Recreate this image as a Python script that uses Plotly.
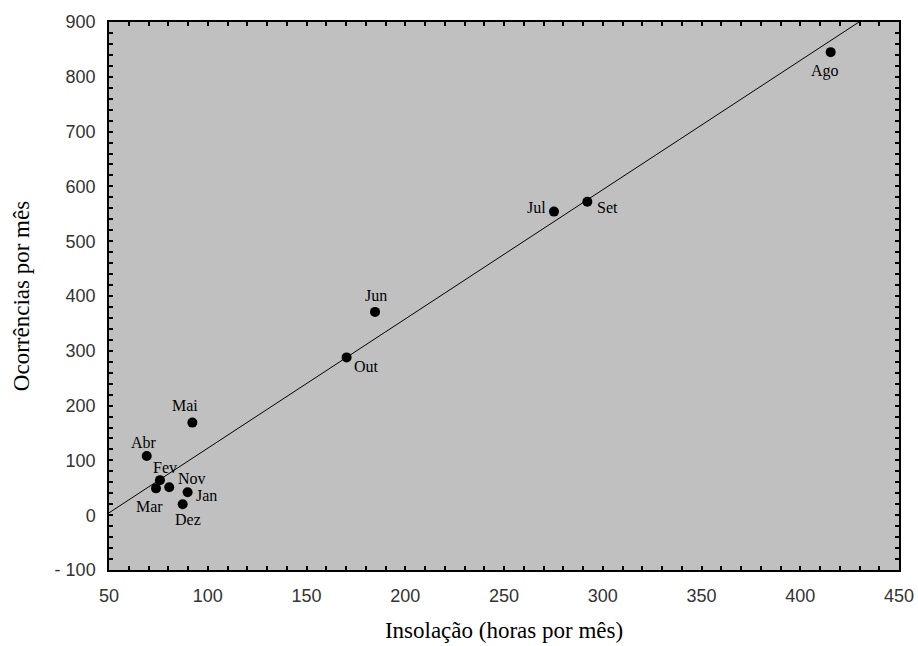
import numpy as np
import plotly.graph_objects as go

months = ["Jan", "Fev", "Mar", "Abr", "Mai", "Jun", "Jul", "Ago", "Set", "Out", "Nov", "Dez"]
insolacao = [89.8, 75.8, 73.8, 69.1, 92.2, 184.7, 275.3, 415.4, 292.2, 170.3, 80.5, 87.3]
ocorrencias = [42, 64, 49, 108, 169, 371, 554, 845, 572, 288, 51, 20]

x_ticks = [50, 100, 150, 200, 250, 300, 350, 400, 450]
y_ticks = [-100, 0, 100, 200, 300, 400, 500, 600, 700, 800, 900]
y_tick_labels = ["- 100", "0", "100", "200", "300", "400", "500", "600", "700", "800", "900"]

# label placement offsets in pixels (dx right, dy up)
label_offsets = {
    "Jan": (19, -3), "Fev": (5, 13), "Mar": (-7, -18), "Abr": (-3, 14),
    "Mai": (-7, 17), "Jun": (1, 16), "Jul": (-17, 4), "Ago": (-6, -19),
    "Set": (20, -6), "Out": (20, -9), "Nov": (23, 9), "Dez": (5, -15),
}

slope, intercept = np.polyfit(insolacao, ocorrencias, 1)
line_x = np.array([50, 450])
line_y = slope * line_x + intercept

fig = go.Figure()
fig.add_trace(go.Scatter(x=line_x, y=line_y, mode="lines",
                         line=dict(color="black", width=1), showlegend=False,
                         hoverinfo="skip"))
fig.add_trace(go.Scatter(x=insolacao, y=ocorrencias, mode="markers",
                         marker=dict(color="black", size=10), showlegend=False,
                         text=months))

for m, x, y in zip(months, insolacao, ocorrencias):
    dx, dy = label_offsets[m]
    fig.add_annotation(x=x, y=y, text=m, showarrow=False, xshift=dx, yshift=dy,
                       font=dict(family="Liberation Serif", size=16, color="black"))

axis_common = dict(
    showgrid=False, zeroline=False, showline=True, linecolor="black", linewidth=1.5,
    mirror="allticks", ticks="inside", ticklen=4, tickcolor="black", tickwidth=1.5,
    tickfont=dict(family="Liberation Sans", size=18, color="#333"),
    automargin=False,
)

fig.update_xaxes(range=[50, 450], tickvals=x_ticks,
                 minor=dict(ticks="inside", dtick=10, tick0=50, ticklen=4, tickcolor="black", tickwidth=1.5),
                 ticklabelstandoff=9,
                 title=dict(text="Insolação (horas por mês)", standoff=17,
                            font=dict(family="Liberation Serif", size=23, color="black")),
                 **axis_common)
fig.update_yaxes(range=[-100, 900], tickvals=y_ticks, ticktext=y_tick_labels,
                 minor=dict(ticks="inside", dtick=20, tick0=0, ticklen=4, tickcolor="black", tickwidth=1.5),
                 ticklabelstandoff=8,
                 title=dict(text="Ocorrências por mês", standoff=19,
                            font=dict(family="Liberation Serif", size=23, color="black")),
                 **axis_common)

fig.update_layout(
    width=918, height=646,
    margin=dict(l=109, r=19, t=22, b=76),
    paper_bgcolor="white", plot_bgcolor="#c0c0c0",
    showlegend=False,
)

fig.write_html("out.html", config={"displayModeBar": False},
               post_script="document.body.style.margin='0';document.body.style.overflow='hidden';")
